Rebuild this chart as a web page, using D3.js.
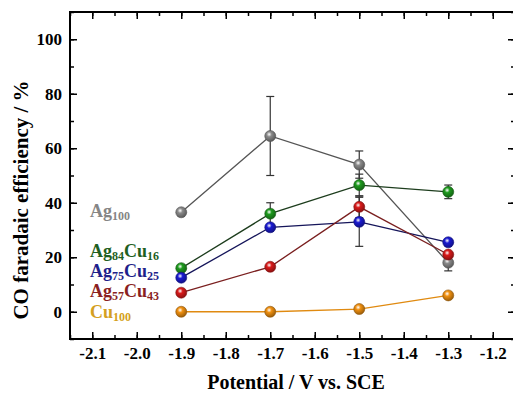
<!DOCTYPE html>
<meta charset="utf-8">
<title>CO faradaic efficiency</title>
<style>
body { margin: 0; background: #fff; overflow: hidden; }
.axis .domain { display: none; }
.axis .tick line { stroke: #000; stroke-width: 1.5; }
.axis .tick text { fill: #000; }
</style>
<body>
<svg width="513" height="393"></svg>
<script src="https://d3js.org/d3.v7.min.js"></script>
<script>
var FONT = "Liberation Serif";

// potentials (V vs SCE)
var potentials = [-1.9, -1.7, -1.5, -1.3];

// faradaic efficiency, %
var ag100    = [36.5, 64.5, 54.0, 18.0];
var ag84cu16 = [16.0, 36.0, 46.5, 44.0];
var ag75cu25 = [12.5, 31.0, 33.0, 25.5];
var ag57cu43 = [7.0, 16.5, 38.5, 21.0];
var cu100    = [0.0, 0.0, 1.0, 6.0];

// error bar half widths
var ag100Err    = [0, 14.5, 5, 3];
var ag84cu16Err = [0, 4, 4, 2.5];
var ag75cu25Err = [0, 0, 9, 0];
var ag57cu43Err = [0, 0, 4, 0];
var cu100Err    = [0, 0, 0, 0];

var xTicks = [-2.1, -2.0, -1.9, -1.8, -1.7, -1.6, -1.5, -1.4, -1.3, -1.2];
var yTicks = [0, 20, 40, 60, 80, 100];

var series = [
  {name: "Ag", sub: "100", name2: "", sub2: "", vals: ag100, err: ag100Err, fill: "#8a8a8a", line: "#555", text: "#858585", ly: 217},
  {name: "Ag", sub: "84", name2: "Cu", sub2: "16", vals: ag84cu16, err: ag84cu16Err, fill: "#1e9a1e", line: "#1d3d1d", text: "#1f5f1f", ly: 257},
  {name: "Ag", sub: "75", name2: "Cu", sub2: "25", vals: ag75cu25, err: ag75cu25Err, fill: "#1a1ad0", line: "#15155a", text: "#1f1f8a", ly: 277},
  {name: "Ag", sub: "57", name2: "Cu", sub2: "43", vals: ag57cu43, err: ag57cu43Err, fill: "#d81a1a", line: "#7a1f1f", text: "#8a1f1f", ly: 297},
  {name: "Cu", sub: "100", name2: "", sub2: "", vals: cu100, err: cu100Err, fill: "#f09010", line: "#e08a10", text: "#d4a020", ly: 318}
];

var svg = d3.select("svg"),
    margin = {top: 12, right: -2, bottom: 54, left: 70},
    width = +svg.attr("width") - margin.left - margin.right,
    height = +svg.attr("height") - margin.top - margin.bottom;

var x = d3.scaleLinear().domain([-2.15, -1.15]).range([margin.left, margin.left + width]);
var y = d3.scaleLinear().domain([-10, 110]).range([margin.top + height, margin.top]);

// plain hyphen minus like the original
var fmtX = function(d) { return d.toFixed(1); };

// sphere gradients
var defs = svg.append("defs");
series.forEach(function(s, i) {
  var gr = defs.append("radialGradient").attr("id", "g" + i)
    .attr("cx", "40%").attr("cy", "35%").attr("r", "65%");
  gr.append("stop").attr("offset", "0%").attr("stop-color", "#fff");
  gr.append("stop").attr("offset", "35%").attr("stop-color", s.fill);
  gr.append("stop").attr("offset", "100%").attr("stop-color", d3.color(s.fill).darker(1.2));
});

// axes with inward ticks
var minorX = d3.range(-2.15, -1.15, 0.05).map(function(v) { return +v.toFixed(2); });
var minorY = d3.range(-10, 111, 10);

function style(g) {
  g.attr("font-family", FONT).attr("font-size", 17).attr("font-weight", "bold");
  g.selectAll("text").attr("font-family", FONT).attr("font-weight", "bold");
}

svg.append("g").attr("class", "axis")
  .attr("transform", "translate(0," + (margin.top + height) + ")")
  .call(d3.axisBottom(x).tickValues(xTicks).tickSize(-7).tickPadding(8).tickFormat(fmtX)).call(style);
svg.append("g").attr("class", "axis")
  .attr("transform", "translate(0," + (margin.top + height) + ")")
  .call(d3.axisBottom(x).tickValues(minorX).tickSize(-4).tickFormat(""));
svg.append("g").attr("class", "axis")
  .attr("transform", "translate(0," + margin.top + ")")
  .call(d3.axisTop(x).tickValues(xTicks).tickSize(-7).tickFormat(""));
svg.append("g").attr("class", "axis")
  .attr("transform", "translate(0," + margin.top + ")")
  .call(d3.axisTop(x).tickValues(minorX).tickSize(-4).tickFormat(""));

svg.append("g").attr("class", "axis")
  .attr("transform", "translate(" + margin.left + ",0)")
  .call(d3.axisLeft(y).tickValues(yTicks).tickSize(-7).tickPadding(8)).call(style);
svg.append("g").attr("class", "axis")
  .attr("transform", "translate(" + margin.left + ",0)")
  .call(d3.axisLeft(y).tickValues(minorY).tickSize(-4).tickFormat(""));
svg.append("g").attr("class", "axis")
  .attr("transform", "translate(" + (margin.left + width) + ",0)")
  .call(d3.axisRight(y).tickValues(yTicks).tickSize(-7).tickFormat(""));
svg.append("g").attr("class", "axis")
  .attr("transform", "translate(" + (margin.left + width) + ",0)")
  .call(d3.axisRight(y).tickValues(minorY).tickSize(-4).tickFormat(""));

// frame
svg.append("rect")
  .attr("x", margin.left).attr("y", margin.top)
  .attr("width", width).attr("height", height)
  .attr("fill", "none").attr("stroke", "#000").attr("stroke-width", 2);

var line = d3.line()
  .x(function(d, i) { return x(potentials[i]); })
  .y(function(d) { return y(d); });

// lines
series.forEach(function(s) {
  svg.append("path").datum(s.vals)
    .attr("fill", "none").attr("stroke", s.line).attr("stroke-width", 1.3)
    .attr("d", line);
});

// error bars
series.forEach(function(s) {
  var g = svg.append("g").attr("stroke", "#333").attr("stroke-width", 1.2);
  s.vals.forEach(function(v, i) {
    var e = s.err[i];
    if (!e) return;
    var cx = x(potentials[i]);
    g.append("line").attr("x1", cx).attr("x2", cx).attr("y1", y(v - e)).attr("y2", y(v + e));
    g.append("line").attr("x1", cx - 4).attr("x2", cx + 4).attr("y1", y(v - e)).attr("y2", y(v - e));
    g.append("line").attr("x1", cx - 4).attr("x2", cx + 4).attr("y1", y(v + e)).attr("y2", y(v + e));
  });
});

// markers
series.forEach(function(s, k) {
  svg.append("g").selectAll("circle").data(s.vals).enter().append("circle")
    .attr("cx", function(d, i) { return x(potentials[i]); })
    .attr("cy", function(d) { return y(d); })
    .attr("r", 5.5)
    .attr("fill", "url(#g" + k + ")")
    .attr("stroke", d3.color(s.fill).darker(1.5)).attr("stroke-width", 0.6);
});

// series labels
series.forEach(function(s) {
  var t = svg.append("text").attr("x", 90).attr("y", s.ly)
    .attr("font-family", FONT).attr("font-weight", "bold")
    .attr("fill", s.text).attr("font-size", "18px");
  t.append("tspan").text(s.name);
  t.append("tspan").attr("font-size", "12px").attr("dy", 3).text(s.sub);
  if (s.name2) {
    t.append("tspan").attr("dy", -3).text(s.name2);
    t.append("tspan").attr("font-size", "12px").attr("dy", 3).text(s.sub2);
  }
});

// axis titles
svg.append("text")
  .attr("x", 296).attr("y", 389)
  .attr("font-family", FONT).attr("font-weight", "bold")
  .attr("text-anchor", "middle").attr("font-size", "20px")
  .text("Potential / V vs. SCE");

svg.append("text")
  .attr("transform", "translate(28,200) rotate(-90)")
  .attr("font-family", FONT).attr("font-weight", "bold")
  .attr("text-anchor", "middle").attr("font-size", "21px")
  .text("CO faradaic efficiency / %");
</script>
</body>
